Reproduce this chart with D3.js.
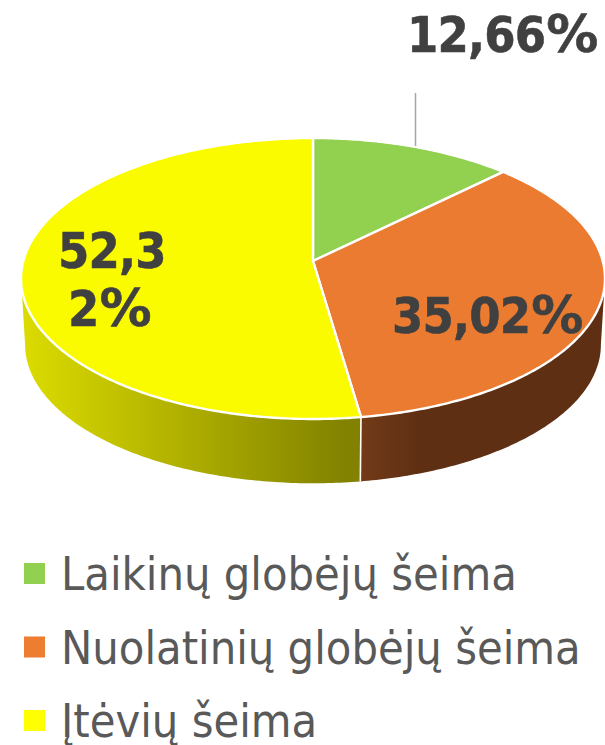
<!DOCTYPE html>
<html><head><meta charset="utf-8">
<script src="https://cdn.jsdelivr.net/npm/d3@7"></script>
<style>html,body{margin:0;padding:0;background:#fff}svg{display:block}
text{font-family:"DejaVu Sans",Verdana,sans-serif;font-stretch:condensed}</style>
</head><body><svg id="c" width="605" height="745"></svg>
<script>
const categories = ["Laikinų globėjų šeima", "Nuolatinių globėjų šeima", "Įtėvių šeima"];
const values = [12.66, 35.02, 52.32];
const colors = ["#92D050", "#EB7B30", "#FBFB00"];
const legendColors = ["#92D050", "#ED7D31", "#FFFF00"];
const labelLines = [["12,66%"], ["35,02%"], ["52,3", "2%"]];

const svg = d3.select("#c");
const defs = svg.append("defs");

// perspective projection of the pie disc
const K = 0.1246;
function project(theta, x0, y0, scale) {
  const u = Math.sin(theta), v = -Math.cos(theta), w = 1 - K * v;
  return [x0 + 289.7 * scale * u / w, y0 + 138.3 * scale * v / w];
}
const topP = t => project(t, 313, 261, 1);
const botP = t => project(t, 313, 327.5, 0.986);
const arcs = d3.pie().sort(null).value(d => d)(values);
const samples = (a, b) => { const n = Math.max(2, Math.ceil(Math.abs(b - a) * 80)); return d3.range(n + 1).map(i => a + (b - a) * i / n); };
const line = d3.line();

// side wall, only the visible front half
const aL = Math.PI * 2 - Math.acos(-K), aR = Math.acos(-K);
const sideStops = [
  null,
  { x1: 360, x2: 420, from: "#723B18", to: "#5F2F13" },
  { x1: 25, x2: 345, from: "#DBDB00", to: "#828200" }
];
arcs.forEach((d, i) => {
  const a = Math.max(d.startAngle, aR), b = Math.min(d.endAngle, aL);
  if (b <= a || !sideStops[i]) return;
  const s = sideStops[i];
  const g = defs.append("linearGradient").attr("id", "side" + i).attr("gradientUnits", "userSpaceOnUse")
    .attr("x1", s.x1).attr("x2", s.x2).attr("y1", 0).attr("y2", 0);
  g.append("stop").attr("offset", 0).attr("stop-color", s.from);
  g.append("stop").attr("offset", 1).attr("stop-color", s.to);
  const pts = samples(a, b).map(topP).concat(samples(b, a).map(botP));
  svg.append("path").attr("d", line(pts) + "Z").attr("fill", `url(#side${i})`);
});
// white seam between the two side walls
const seam = arcs[1].endAngle;
svg.append("path").attr("d", line([topP(seam), botP(seam)])).attr("stroke", "#fff").attr("stroke-width", 1.6).attr("fill", "none");

// top face
arcs.forEach((d, i) => {
  const pts = [[313, 261]].concat(samples(d.startAngle, d.endAngle).map(topP));
  svg.append("path").attr("d", line(pts) + "Z").attr("fill", colors[i])
    .attr("stroke", "#fff").attr("stroke-width", 2.4).attr("stroke-linejoin", "round");
});

// leader line
svg.append("line").attr("x1", 415.5).attr("x2", 415.5).attr("y1", 93).attr("y2", 146)
  .attr("stroke", "#A6A6A6").attr("stroke-width", 1.5);

// data labels
const labelPos = [[[407, 52]], [[392, 333]], [[58, 268], [68, 326]]];
labelLines.forEach((ls, i) => ls.forEach((t, j) => {
  const el = svg.append("text").attr("x", labelPos[i][j][0]).attr("y", labelPos[i][j][1])
    .attr("font-size", 50).attr("font-weight", "bold").attr("fill", "#404040")
    .attr("stroke", "#404040").attr("stroke-width", 0.5);
  const num = t.replace("%", "");
  el.append("tspan").style("letter-spacing", "-0.8px").text(num);
  if (t.endsWith("%")) el.append("tspan").attr("dx", 1).attr("font-size", 52).style("font-stretch", "normal").text("%");
}));

// legend
const y = d3.scaleLinear().domain([0, 2]).range([590, 737]);
categories.forEach((c, i) => {
  svg.append("rect").attr("x", 24).attr("y", y(i) - 27).attr("width", 21).attr("height", 21).attr("fill", legendColors[i]);
  svg.append("text").attr("x", 61).attr("y", y(i)).attr("font-size", 46.5).attr("fill", "#595959").text(c);
});
</script></body></html>
